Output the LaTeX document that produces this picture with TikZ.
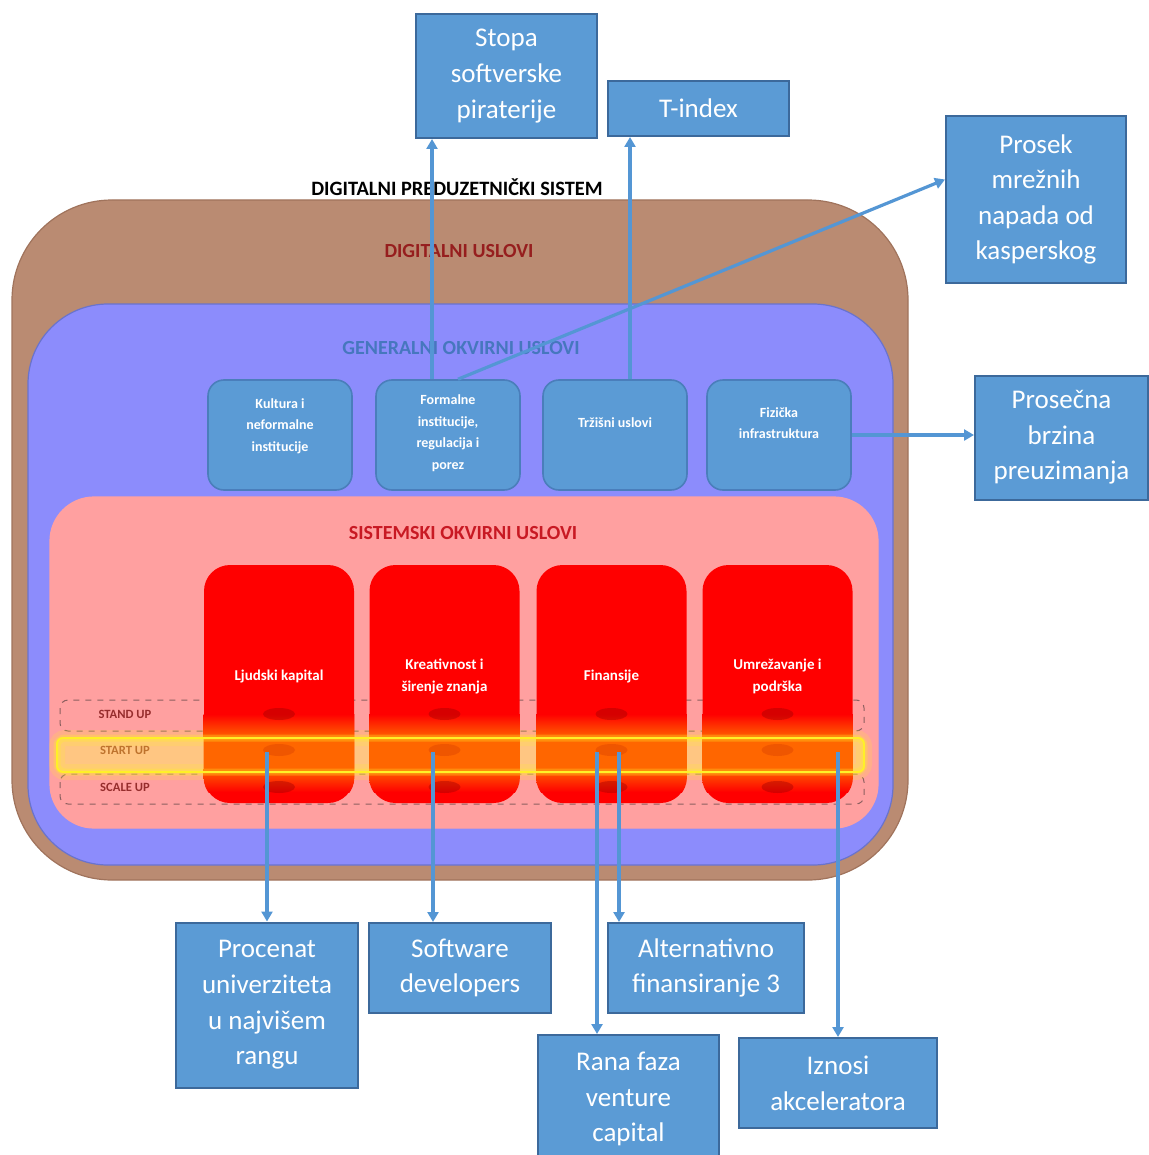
\documentclass[tikz,border=0pt]{standalone}
\usepackage{fontspec}
\setmainfont{Carlito}
\usetikzlibrary{arrows.meta}
\definecolor{brownc}{RGB}{186,139,114}
\definecolor{brownb}{RGB}{160,115,92}
\definecolor{lavc}{RGB}{140,140,252}
\definecolor{lavb}{RGB}{105,115,205}
\definecolor{pinkc}{RGB}{255,160,160}
\definecolor{boxc}{RGB}{91,155,213}
\definecolor{boxb}{RGB}{60,105,155}
\definecolor{gboxb}{RGB}{74,126,187}
\definecolor{arrc}{RGB}{84,150,212}
\definecolor{dredc}{RGB}{150,30,30}
\definecolor{genc}{RGB}{70,119,190}
\definecolor{sisc}{RGB}{200,25,35}
\definecolor{orangeband}{RGB}{255,102,0}
\definecolor{startfill}{RGB}{255,198,130}
\definecolor{rowlab}{RGB}{150,45,45}
\definecolor{startlab}{RGB}{190,115,45}
\definecolor{dashc}{RGB}{140,95,95}
\definecolor{glowc}{RGB}{255,240,40}
\begin{document}
\begin{tikzpicture}[x=0.5pt,y=-0.5pt,
  container/.style={draw, line width=0.6pt, inner sep=0pt},
  gbox/.style={draw=gboxb, fill=boxc, line width=0.8pt, rounded corners=8pt,
    minimum width=72pt, minimum height=55pt, inner sep=0pt},
  gtext/.style={text=white, font=\fontsize{7}{10.8}\selectfont\bfseries, align=center},
  col/.style={fill=red, rounded corners=13pt, minimum width=75pt, minimum height=119pt, inner sep=0pt},
  coltext/.style={text=white, font=\fontsize{7.5}{11}\selectfont\bfseries, align=center},
  rowbox/.style={draw=dashc, dashed, line width=0.5pt, rounded corners=4pt},
  rowlabel/.style={font=\fontsize{6.3}{7}\selectfont\bfseries},
  outbox/.style={draw=boxb, fill=boxc, line width=1pt, inner sep=0pt, text=white,
    font=\fontsize{13.5}{17.8}\selectfont, align=center},
  conn/.style={draw=arrc, line width=1.6pt, -{Triangle[width=5.5pt,length=5pt]}},
  blob/.style={fill=black!40!red, opacity=0.4}
]
\useasboundingbox (0,0) rectangle (1149,1155);

% containers
\node[container, draw=brownb, fill=brownc, rounded corners=50pt,
  minimum width=448pt, minimum height=340pt] (digital) at (460,540) {};
\node[container, draw=lavb, fill=lavc, rounded corners=40pt,
  minimum width=432.5pt, minimum height=280.5pt] (general) at (460.5,584.5) {};
\node[container, draw=pinkc, fill=pinkc, rounded corners=22pt,
  minimum width=414pt, minimum height=165.5pt] (sistem) at (464,662.5) {};

% labels of containers
\node[font=\fontsize{10.2}{11}\selectfont\bfseries] (title) at (457,187) {DIGITALNI PREDUZETNIČKI SISTEM};
\node[font=\fontsize{10}{11}\selectfont\bfseries, text=dredc] (dlab) at (459,251) {DIGITALNI USLOVI};
\node[font=\fontsize{10}{11}\selectfont\bfseries, text=genc] (glab) at (461,348) {GENERALNI OKVIRNI USLOVI};
\node[font=\fontsize{10}{11}\selectfont\bfseries, text=sisc] (slab) at (463,533) {SISTEMSKI OKVIRNI USLOVI};

% rows
\draw[rowbox] (60,700) rectangle (864,731);
\draw[rowbox] (60,774) rectangle (864,804);
\fill[startfill, rounded corners=3pt] (57,738) rectangle (864,772);
\draw[glowc, opacity=0.18, line width=8pt, rounded corners=4pt] (57,738) rectangle (864,772);

% columns
\foreach \n/\x in {c1/279,c2/444.5,c3/611.5,c4/777.5}{
  \node[col] (\n) at (\x,684) {};
  \begin{scope}
    \clip[rounded corners=13pt] (\n.south west) rectangle (\n.north east);
    \shade[top color=red, bottom color=orangeband] (\x-80,714) rectangle (\x+80,738);
    \fill[orangeband] (\x-80,738) rectangle (\x+80,768);
    \shade[top color=orangeband, bottom color=red] (\x-80,768) rectangle (\x+80,792);
  \end{scope}
  \fill[blob] (\x,714) ellipse [x radius=8pt, y radius=3pt];
  \fill[blob, opacity=0.15] (\x,750) ellipse [x radius=8pt, y radius=3pt];
  \fill[blob] (\x,787) ellipse [x radius=8pt, y radius=3pt];
}
\node[coltext] (c1t) at (279,676) {Ljudski kapital};
\node[coltext] (c2t) at (444.5,676) {Kreativnost i\\širenje znanja};
\node[coltext] (c3t) at (611.5,676) {Finansije};
\node[coltext] (c4t) at (777.5,676) {Umrežavanje i\\podrška};

% start up glow border
\draw[glowc, opacity=0.3, line width=3.5pt, rounded corners=4pt] (57,738) rectangle (864,772);
\draw[glowc, line width=1pt, rounded corners=3pt] (57,738) rectangle (864,772);

\node[rowlabel, text=rowlab] (standup) at (125,714) {STAND UP};
\node[rowlabel, text=startlab] (startup) at (125,750) {START UP};
\node[rowlabel, text=rowlab] (scaleup) at (125,787) {SCALE UP};

% general boxes
\node[gbox] (kult) at (280,435) {};
\node[gtext] (kultt) at (280,426) {Kultura i\\neformalne\\institucije};
\node[gbox] (form) at (448,435) {};
\node[gtext] (formt) at (448,433) {Formalne\\institucije,\\regulacija i\\porez};
\node[gbox] (trz) at (615,435) {};
\node[gtext] (trzt) at (615,423) {Tržišni uslovi};
\node[gbox] (fiz) at (779,435) {};
\node[gtext] (fizt) at (779,423) {Fizička\\infrastruktura};

% output boxes
\node[outbox, minimum width=90.5pt, minimum height=62pt] (stopa) at (506.5,76) {Stopa\\softverske\\piraterije};
\node[outbox, minimum width=90.5pt, minimum height=27.5pt] (tindex) at (698.5,108.5) {T-index};
\node[outbox, minimum width=90pt, minimum height=83.5pt] (prosek) at (1036,199.5) {Prosek\\mrežnih\\napada od\\kasperskog};
\node[outbox, minimum width=86.5pt, minimum height=62pt] (brzina) at (1061.5,437.5) {Prosečna\\brzina\\preuzimanja};
\node[outbox, minimum width=91pt, minimum height=82.5pt] (proc) at (267,1005) {Procenat\\univerziteta\\u najvišem\\rangu};
\node[outbox, minimum width=91pt, minimum height=45pt] (soft) at (460,968) {Software\\developers};
\node[outbox, minimum width=98pt, minimum height=45pt] (alt) at (706,968) {Alternativno\\finansiranje 3};
\node[outbox, minimum width=90.5pt, minimum height=64pt] (rana) at (628.5,1099) {Rana faza\\venture\\capital};
\node[outbox, minimum width=99pt, minimum height=45pt] (izn) at (838,1083) {Iznosi\\akceleratora};

% connectors
\coordinate (s1) at (267,752);
\coordinate (s2) at (433,752);
\coordinate (s3) at (597,752);
\coordinate (s4) at (619,752);
\coordinate (s5) at (838,752);
\draw[conn] ([xshift=-8pt]form.north) -- ([xshift=-8pt]form.north |- stopa.south);
\draw[conn] ([xshift=7.5pt]trz.north) -- ([xshift=7.5pt]trz.north |- tindex.south);
\draw[conn] ([xshift=5pt]form.north) -- ([yshift=10pt]prosek.west);
\draw[conn] (fiz.east) -- (fiz.east -| brzina.west);
\draw[conn] (s1) -- (s1 |- proc.north);
\draw[conn] (s2) -- (s2 |- soft.north);
\draw[conn] (s3) -- (s3 |- rana.north);
\draw[conn] (s4) -- (s4 |- alt.north);
\draw[conn] (s5) -- (s5 |- izn.north);
\end{tikzpicture}
\end{document}
